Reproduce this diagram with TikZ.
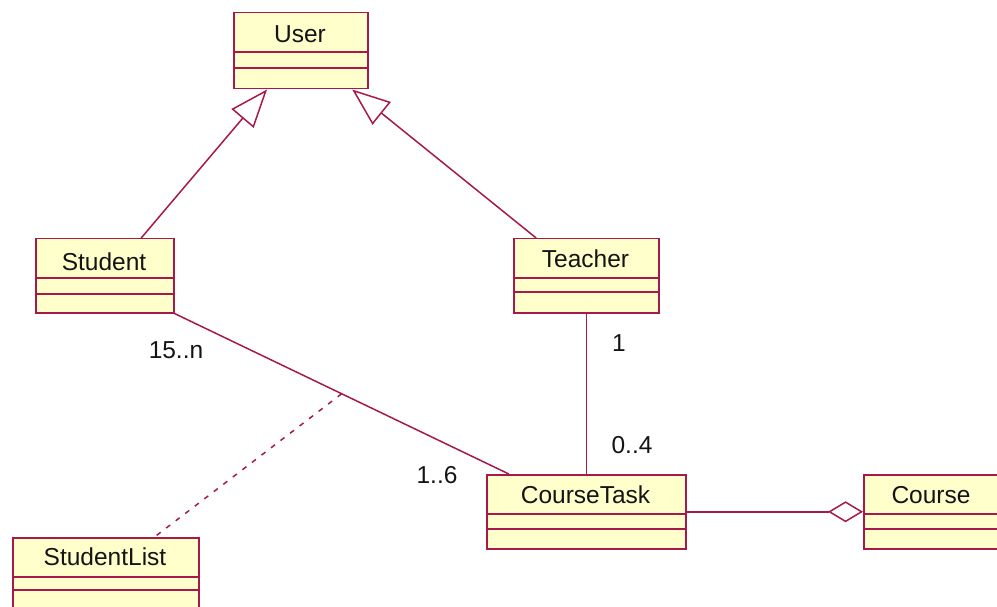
\documentclass[tikz,border=0pt]{standalone}
\usepackage{fontspec}
\setmainfont{Liberation Sans}
\usetikzlibrary{arrows.meta,calc}
\definecolor{umlborder}{RGB}{165,25,75}
\definecolor{umlfill}{RGB}{255,255,204}
\definecolor{umltext}{RGB}{20,20,20}
\begin{document}
\begin{tikzpicture}[x=1pt,y=-1pt,
  cls/.style={draw=umlborder, fill=umlfill, line width=1.5pt, inner sep=0pt, anchor=north west},
  txt/.style={anchor=base, font=\fontsize{24.5}{28}\selectfont, text=umltext, inner sep=0pt},
  divider/.style={draw=umlborder, line width=1.5pt},
  conn/.style={draw=umlborder, line width=1.5pt},
  gen/.style={conn, -{Triangle[open, length=38pt, width=29pt]}},
  aggr/.style={conn, -{Diamond[open, length=35pt, width=21pt]}},
  dep/.style={conn, dash pattern=on 5pt off 7pt}]
\useasboundingbox (0,0) rectangle (997,607);
\begin{scope}
\clip (0,0) rectangle (997,607);
% classes
\node[cls, minimum width=134pt, minimum height=76pt] (user) at (233,12) {};
\node[txt] (userlbl) at (300,43) {User};
\draw[divider] (233,52) -- (367,52) (233,68) -- (367,68);

\node[cls, minimum width=138pt, minimum height=74pt] (student) at (35,238) {};
\node[txt] (studentlbl) at (104,270) {Student};
\draw[divider] (35,278) -- (173,278) (35,294) -- (173,294);

\node[cls, minimum width=145pt, minimum height=74pt] (teacher) at (513,238) {};
\node[txt] (teacherlbl) at (585.5,268) {Teacher};
\draw[divider] (513,278) -- (658,278) (513,292) -- (658,292);

\node[cls, minimum width=199pt, minimum height=74pt] (coursetask) at (486,474) {};
\node[txt] (coursetasklbl) at (585.5,503) {CourseTask};
\draw[divider] (486,514) -- (685,514) (486,529) -- (685,529);

\node[cls, minimum width=137pt, minimum height=74pt] (course) at (863,474) {};
\node[txt] (courselbl) at (931,503) {Course};
\draw[divider] (863,514) -- (1000,514) (863,529) -- (1000,529);

\node[cls, minimum width=186pt, minimum height=72pt] (studentlist) at (12,537) {};
\node[txt] (studentlistlbl) at (105,565) {StudentList};
\draw[divider] (12,577) -- (198,577) (12,590) -- (198,590);

% generalizations
\draw[gen] (student.46) -- (user.229);
\draw[gen] (teacher.143) -- (user.323);

% associations
\draw[conn] (student.south east) -- coordinate[pos=0.5] (mid) (coursetask.154);
\draw[dep] (mid) -- (studentlist.37);
\draw[conn] (teacher.south) -- (coursetask.north);
\draw[aggr] (coursetask.east) -- (course.west);

% multiplicities
\node[txt] (m1) at (176,358) {15..n};
\node[txt] (m2) at (437,483) {1..6};
\node[txt] (m3) at (619,351) {1};
\node[txt] (m4) at (632,453) {0..4};
\end{scope}
\end{tikzpicture}
\end{document}
